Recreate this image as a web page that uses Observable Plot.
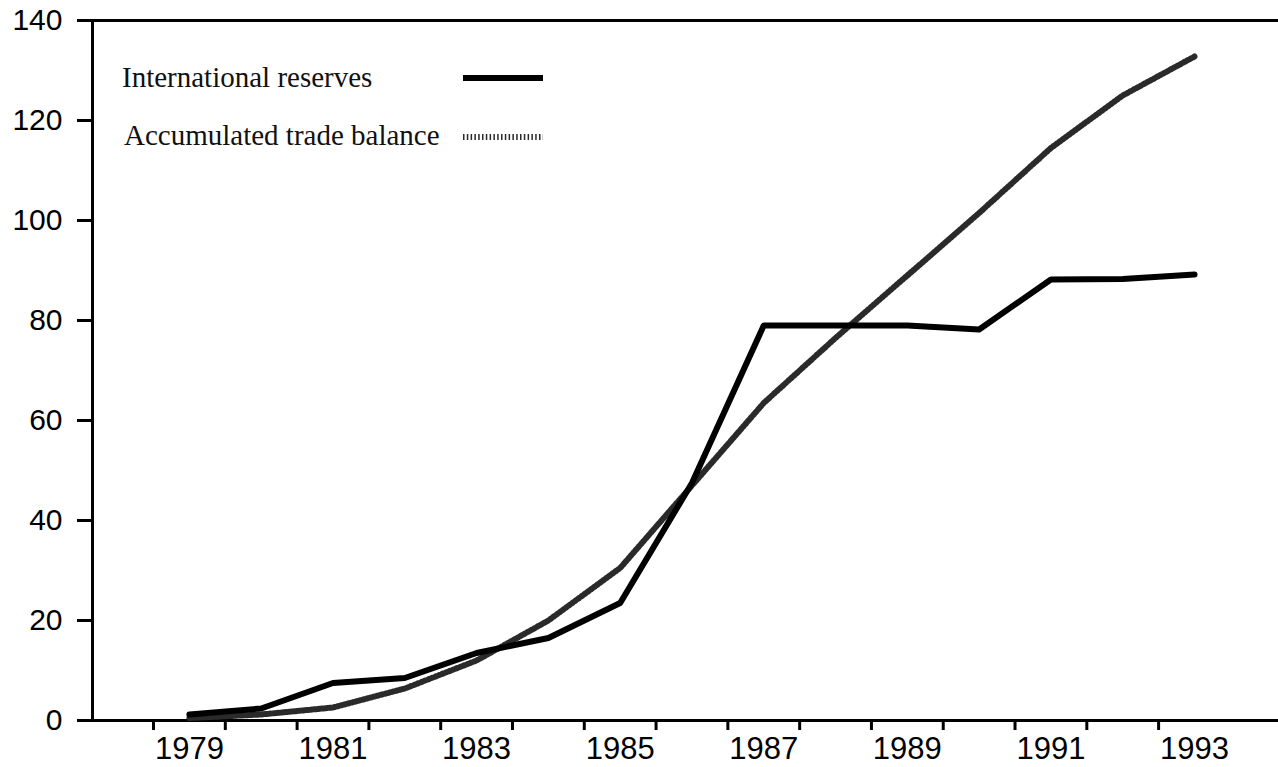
<!DOCTYPE html>
<html>
<head>
<meta charset="utf-8">
<script src="https://cdn.jsdelivr.net/npm/d3@7"></script>
<script src="https://cdn.jsdelivr.net/npm/@observablehq/plot@0.6"></script>
<style>
  html, body { margin: 0; padding: 0; background: #fff; }
  #wrap { position: relative; width: 1278px; height: 767px; }
  #legend { position: absolute; left: 0; top: 0; font-family: "Liberation Serif", "Times New Roman", serif; font-size: 29px; color: #111; }
  .row { position: absolute; white-space: nowrap; line-height: normal; }
  .sample { position: absolute; }
</style>
</head>
<body>
<div id="wrap"></div>
<script>
// Data
const years = [1979,1980,1981,1982,1983,1984,1985,1986,1987,1988,1989,1990,1991,1992,1993];
const reserves = [1.2,2.4,7.5,8.5,13.5,16.5,23.5,47.5,79,79,79,78.2,88.2,88.3,89.2];
const tradeBalance = [0.5,1.2,2.6,6.4,12,20,30.5,47,63.5,76.5,89,101.5,114.5,125,132.8];
const yTicks = [0,20,40,60,80,100,120,140];
const xLabelYears = [1979,1981,1983,1985,1987,1989,1991,1993];
const xTickBounds = [1978.5,1979.5,1980.5,1981.5,1982.5,1983.5,1984.5,1985.5,1986.5,1987.5,1988.5,1989.5,1990.5,1991.5,1992.5];
const seriesNames = ["International reserves", "Accumulated trade balance"];

const resData = years.map((y,i) => ({year: y, value: reserves[i]}));
const tbData = years.map((y,i) => ({year: y, value: tradeBalance[i]}));

const xDomain = [1977.65, 1994.17];
const font = '"Liberation Sans", Arial, Helvetica, sans-serif';
const dotted = "1.5,2.3";
const dottedColor = "#2a2a2a";

const chart = Plot.plot({
  width: 1278,
  height: 767,
  marginLeft: 92,
  marginRight: 0,
  marginTop: 20,
  marginBottom: 47,
  style: {fontFamily: font, fontSize: "30px", color: "#000", background: "#fff"},
  x: {domain: xDomain},
  y: {domain: [0, 140]},
  marks: [
    Plot.ruleY([0, 140], {stroke: "#000", strokeWidth: 3}),
    Plot.ruleX([xDomain[0]], {stroke: "#000", strokeWidth: 3}),
    Plot.axisY({ticks: yTicks, tickSize: 15, tickPadding: 15, tickFormat: d => String(d), label: null, stroke: "#000", strokeWidth: 3, fontSize: 30}),
    Plot.axisX({ticks: xTickBounds, tickSize: 10, tickFormat: () => "", label: null, stroke: "#000", strokeWidth: 3}),
    Plot.axisX({ticks: xLabelYears, tickSize: 0, tickPadding: 16, tickFormat: d => String(d), label: null, fontSize: 31}),
    Plot.line(tbData, {x: "year", y: "value", stroke: dottedColor, strokeWidth: 6, strokeDasharray: dotted}),
    Plot.line(resData, {x: "year", y: "value", stroke: "#000", strokeWidth: 6, strokeLinejoin: "round"})
  ]
});

const wrap = document.getElementById("wrap");
wrap.appendChild(chart);

// Legend overlay
const legend = document.createElement("div");
legend.id = "legend";
legend.innerHTML = `
  <div class="row" style="left:122px; top:61px;">${seriesNames[0]}</div>
  <svg class="sample" style="left:462px; top:72px;" width="82" height="12"><line x1="1" y1="6" x2="81" y2="6" stroke="#000" stroke-width="6"/></svg>
  <div class="row" style="left:124px; top:119px;">${seriesNames[1]}</div>
  <svg class="sample" style="left:462px; top:131px;" width="82" height="12"><line x1="1" y1="6" x2="81" y2="6" stroke="${dottedColor}" stroke-width="6" stroke-dasharray="${dotted}"/></svg>
`;
wrap.appendChild(legend);
</script>
</body>
</html>
